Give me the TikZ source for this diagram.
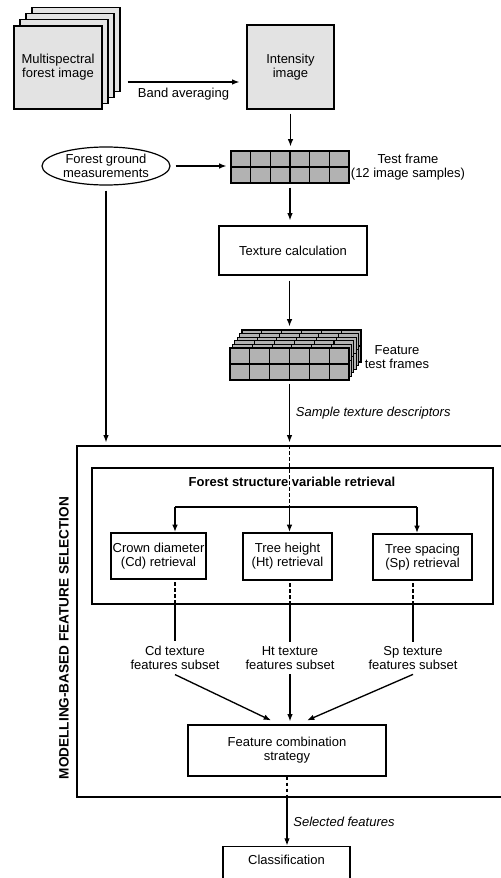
\documentclass[tikz,border=0pt]{standalone}
\usepackage{fontspec}
\setmainfont{Liberation Sans}
\usetikzlibrary{arrows.meta,calc,shapes.geometric}
\definecolor{pagegray}{HTML}{E3E3E3}
\definecolor{cellgray}{HTML}{B2B2B2}
\begin{document}
\begin{tikzpicture}[x=0.75pt,y=-0.75pt,
  every node/.style={font=\fontsize{9.75}{10.6}\selectfont, align=center},
  lab/.style={font=\fontsize{9.75}{10.6}\selectfont\itshape},
  bold/.style={font=\fontsize{9.75}{10.6}\selectfont\bfseries},
  box/.style={draw, line width=0.9pt, inner sep=0pt},
  arr/.style={-{Latex[length=5.5pt,width=4.2pt]}, line width=1pt},
  ln/.style={line width=1pt},
  dsh/.style={line width=1.4pt, dash pattern=on 2.5pt off 2pt},
  page/.style={draw, line width=0.8pt, fill=pagegray},
  cell/.style={draw, line width=0.8pt, fill=cellgray}]
\fill[white] (0,0) rectangle (500,878);
\useasboundingbox (0,0) rectangle (500,878);

% multispectral stack
\foreach \k in {3,2,1}
  \draw[page] (14+6*\k,26-6.3*\k) rectangle ++(88,84);
\node[box, fill=pagegray, minimum width=88*0.75pt, minimum height=83*0.75pt] (ms) at (58,67.5) {Multispectral\\forest image};

% intensity image
\node[box, fill=pagegray, minimum width=87*0.75pt, minimum height=84*0.75pt] (int) at (290.5,67) {Intensity\\image};

\coordinate (ba1) at ($(ms.east)+(25,14.5)$);
\draw[arr] (ba1) -- ($(ba1 -| int.west)+(-7,0)$) node[midway, below=1pt] (bal) {Band averaging};

% test frame
\node[cell, inner sep=0pt, minimum width=118*0.75pt, minimum height=32*0.75pt] (tf) at (290,167) {};
\foreach \i in {1,...,5}
  \draw[line width=0.8pt] ($(tf.north west)!\i/6!(tf.north east)$) -- ($(tf.south west)!\i/6!(tf.south east)$);
\draw[line width=0.8pt] (tf.west) -- (tf.east);
\node (tfl) at (408,167) {Test frame\\(12 image samples)};

\draw[arr, shorten <=3pt, shorten >=3pt] (int.south) -- (int.south |- tf.north);

% ground measurements
\node[ellipse, draw, line width=0.9pt, minimum width=128*0.75pt, minimum height=38*0.75pt, inner sep=0pt] (fgm) at (106,166) {Forest ground\\measurements};
\draw[arr, shorten <=5*0.75pt, shorten >=4*0.75pt] (fgm.east) -- (fgm.east -| tf.west);

% texture calculation
\node[box, minimum width=148*0.75pt, minimum height=49*0.75pt] (tex) at (293,250.5) {Texture calculation};
\draw[arr, shorten <=4*0.75pt, shorten >=5*0.75pt] (tf.south) -- (tf.south |- tex.north);

% feature test frames
\foreach \k in {5,4,3,2,1} {
  \begin{scope}[shift={(2.4*\k,-3.6*\k)}]
    \draw[cell] (230,348) rectangle (349,380);
    \foreach \i in {1,...,5}
      \draw[line width=0.8pt] (230+119*\i/6,348) -- ++(0,32);
    \draw[line width=0.8pt] (230,364) -- (349,364);
  \end{scope}
}
\node[cell, inner sep=0pt, minimum width=119*0.75pt, minimum height=32*0.75pt] (ff) at (289.5,364) {};
\foreach \i in {1,...,5}
  \draw[line width=0.8pt] ($(ff.north west)!\i/6!(ff.north east)$) -- ($(ff.south west)!\i/6!(ff.south east)$);
\draw[line width=0.8pt] (ff.west) -- (ff.east);
\node (ffl) at (397,357.5) {Feature\\test frames};

\draw[arr, shorten <=5*0.75pt, shorten >=21*0.75pt] (ff.north |- tex.south) -- (ff.north);

% outer box
\node[box, minimum width=433*0.75pt, minimum height=351*0.75pt] (outer) at (293.5,621.5) {};
\node[font=\fontsize{10.2}{11}\selectfont\bfseries, rotate=90] (mbfs) at (64,638) {MODELLING-BASED FEATURE SELECTION};

\draw[arr, shorten <=3*0.75pt, shorten >=3*0.75pt] (ff.south) -- (ff.south |- outer.north) node[midway, right=1pt, lab] (std) {Sample texture descriptors};
\draw[arr, shorten <=5*0.75pt, shorten >=3*0.75pt] (fgm.south) -- (fgm.south |- outer.north);

% inner box
\node[box, minimum width=401*0.75pt, minimum height=136*0.75pt] (inner) at (292.5,536) {};
\node[bold] (ttl) at (292,482) {Forest structure variable retrieval};

\node[box, minimum width=95*0.75pt, minimum height=46*0.75pt] (cd) at (158.5,556) {Crown diameter\\(Cd) retrieval};
\node[box, minimum width=89*0.75pt, minimum height=47*0.75pt] (ht) at (287.5,556.5) {Tree height\\(Ht) retrieval};
\node[box, minimum width=99*0.75pt, minimum height=46*0.75pt] (sp) at (422.5,557) {Tree spacing\\(Sp) retrieval};

\coordinate (br) at (289.5,507);
\coordinate (cdt) at ($(cd.north)+(16.5,0)$);
\coordinate (spt) at ($(sp.north)+(-5.5,0)$);
\draw[dsh] (br |- outer.north) -- (br);
\draw[ln] (br -| cdt) -- (br -| spt);
\draw[arr, shorten >=0.3pt] (br -| cdt) -- (cdt);
\draw[arr, shorten >=0.3pt] (br) -- (br |- ht.north);
\draw[arr, shorten >=0.3pt] (br -| spt) -- (spt);

% subset labels
\node (cdl) at (175,658) {Cd texture\\features subset};
\node (htl) at (290,658) {Ht texture\\features subset};
\node (spl) at (413,658) {Sp texture\\features subset};

\draw[dsh, shorten <=2pt] (cdl |- cd.south) -- (cdl |- inner.south);
\draw[dsh, shorten <=2pt] (htl |- ht.south) -- (htl |- inner.south);
\draw[dsh, shorten <=2pt] (spl |- sp.south) -- (spl |- inner.south);
\draw[ln] (cdl |- inner.south) -- (cdl.north);
\draw[ln] (htl |- inner.south) -- (htl.north);
\draw[ln] (spl |- inner.south) -- (spl.north);

% feature combination
\node[box, minimum width=198*0.75pt, minimum height=51*0.75pt] (fc) at (287,750.5) {Feature combination\\strategy};
\draw[arr] (cdl.south) -- ($(fc.north)+(-16,-4)$);
\draw[arr, shorten >=3*0.75pt] (htl.south) -- (htl.south |- fc.north);
\draw[arr] (spl.south) -- ($(fc.north)+(20,-4)$);

% classification
\node[box, anchor=north, minimum width=127*0.75pt, text height=10.5pt, text depth=30pt, inner ysep=3pt] (cls) at (286.5,846) {Classification};
\draw[dsh] (fc.south) -- (fc.south |- outer.south);
\draw[arr, shorten >=0.3pt] (fc.south |- outer.south) -- (fc.south |- cls.north) node[midway, right=1pt, lab] (sf) {Selected features};
\end{tikzpicture}
\end{document}
